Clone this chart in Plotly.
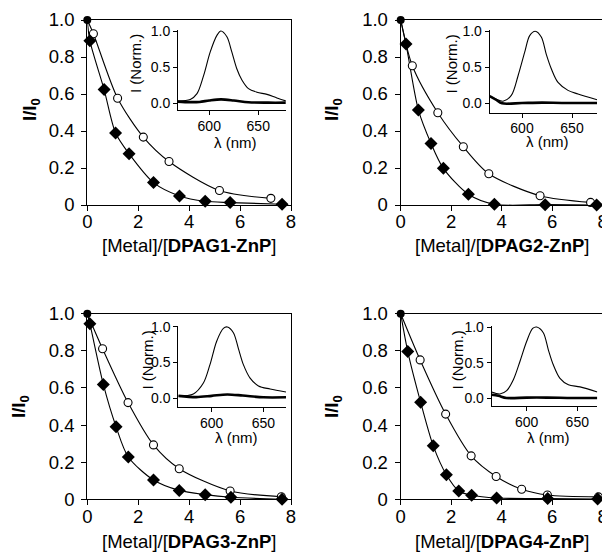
import plotly.graph_objects as go

# The page body has an 8px margin, so the figure is drawn 8px in from the window's corner.
OFF = 8
W, H = 610 - OFF, 552 - OFF

# ---------------- data: titration (I/I0 vs [Metal]/[DPAG-ZnP]) ----------------
titles = ["DPAG1-ZnP", "DPAG2-ZnP", "DPAG3-ZnP", "DPAG4-ZnP"]

p1_circ_x = [0, 0.24, 1.19, 2.2, 3.21, 5.19, 7.21]
p1_circ_y = [1.0, 0.926, 0.577, 0.367, 0.235, 0.078, 0.036]
p1_diam_x = [0, 0.1, 0.66, 1.11, 1.64, 2.6, 3.62, 4.63, 5.61, 7.65]
p1_diam_y = [1.0, 0.888, 0.624, 0.389, 0.277, 0.121, 0.049, 0.02, 0.013, 0.004]

p2_circ_x = [0, 0.46, 1.47, 2.48, 3.49, 5.52, 7.52]
p2_circ_y = [1.0, 0.753, 0.499, 0.315, 0.169, 0.05, 0.014]
p2_diam_x = [0, 0.21, 0.70, 1.2, 1.69, 2.68, 3.71, 5.72, 7.76]
p2_diam_y = [1.0, 0.870, 0.514, 0.333, 0.198, 0.058, 0.004, 0.002, 0.0]

p3_circ_x = [0, 0.6, 1.6, 2.6, 3.61, 5.61, 7.62]
p3_circ_y = [1.0, 0.811, 0.521, 0.293, 0.165, 0.045, 0.014]
p3_diam_x = [0, 0.1, 0.63, 1.13, 1.61, 2.6, 3.61, 4.63, 5.64, 7.65]
p3_diam_y = [1.0, 0.946, 0.619, 0.391, 0.228, 0.104, 0.048, 0.025, 0.011, 0.0]

p4_circ_x = [0, 0.77, 1.78, 2.79, 3.78, 4.79, 5.81, 7.83]
p4_circ_y = [1.0, 0.751, 0.459, 0.234, 0.123, 0.054, 0.023, 0.013]
p4_diam_x = [0, 0.28, 0.79, 1.29, 1.81, 2.3, 2.81, 3.8, 5.82, 7.8]
p4_diam_y = [1.0, 0.796, 0.523, 0.288, 0.132, 0.045, 0.022, 0.007, 0.004, 0.002]

main_yticks = [0, 0.2, 0.4, 0.6, 0.8, 1.0]
main_yticktext = ["0", "0.2", "0.4", "0.6", "0.8", "1.0"]
main_xticks = [0, 2, 4, 6, 8]

# ---------------- data: inset emission spectra ----------------
s1_free_wl = [568, 580.6, 587.5, 594.2, 601, 607.8, 611.9, 618, 623, 628, 633.3, 640, 648.6, 658.9, 669, 678]
s1_free_I = [0.028, 0.05, 0.13, 0.38, 0.71, 0.94, 1.0, 0.92, 0.71, 0.48, 0.32, 0.2, 0.15, 0.12, 0.07, 0.03]
s1_q_wl = [568, 580, 590, 600, 612, 625, 640, 660, 678]
s1_q_I = [0.02, 0.012, 0.015, 0.035, 0.05, 0.035, 0.01, 0.005, 0.005]

s2_free_wl = [567.7, 574, 581, 589.3, 596, 602.7, 607.7, 613.3, 619.3, 624.3, 629.3, 636, 646, 656, 675]
s2_free_I = [0.1, 0.06, 0.03, 0.11, 0.38, 0.71, 0.94, 1.0, 0.92, 0.68, 0.48, 0.29, 0.18, 0.13, 0.05]
s2_q_wl = [567.7, 574, 580, 600, 620, 640, 660, 675]
s2_q_I = [0.1, 0.05, 0.0, 0.005, 0.01, 0.005, 0.005, 0.005]

s3_free_wl = [567.6, 582.2, 591.9, 598.3, 604.8, 611.3, 615.1, 621, 625.8, 630.7, 637.2, 645.3, 656.6, 672]
s3_free_I = [0.028, 0.056, 0.21, 0.47, 0.80, 0.98, 1.0, 0.92, 0.70, 0.47, 0.28, 0.17, 0.127, 0.085]
s3_q_wl = [567.6, 585, 600, 615, 630, 650, 672]
s3_q_I = [0.03, 0.012, 0.03, 0.05, 0.035, 0.01, 0.01]

s4_free_wl = [565.4, 573.5, 580.2, 586.8, 593.4, 600, 605.9, 609.9, 616.4, 621.4, 626.3, 632.9, 641.2, 652.7, 669.8]
s4_free_I = [0.088, 0.06, 0.107, 0.26, 0.52, 0.80, 0.98, 1.0, 0.92, 0.68, 0.47, 0.28, 0.19, 0.16, 0.088]
s4_q_wl = [565.4, 572, 580, 600, 620, 640, 669.8]
s4_q_I = [0.05, 0.035, 0.005, 0.01, 0.01, 0.005, 0.005]

inset_ticks = [600, 650]
inset_yticks = [0, 0.5, 1.0]
inset_yticktext = ["0.0", "0.5", "1.0"]

# ---------------- layout geometry (window pixels) ----------------
def px_x(a, b):
    return [(a - OFF) / W, (b - OFF) / W]

def px_y(top, bottom):
    return [1 - (bottom - OFF) / H, 1 - (top - OFF) / H]

def pt(x, y):
    return (x - OFF) / W, 1 - (y - OFF) / H

main_geom = [
    (87.3, 291, 20, 205),
    (400.7, 602.7, 20, 205),
    (87.3, 291, 313.7, 499.3),
    (400.7, 602.7, 313.7, 499.3),
]
inset_geom = [
    (178, 286, 30, 110, [568.1, 678.3], [-0.097, 1.014]),
    (489.7, 597.3, 30.3, 112.5, [567.7, 675.3], [-0.127, 1.014]),
    (178.3, 286, 326, 407.3, [567.6, 672.0], [-0.131, 1.014]),
    (491.7, 597.3, 326, 406, [565.4, 669.8], [-0.108, 1.014]),
]

panels = [
    (p1_circ_x, p1_circ_y, p1_diam_x, p1_diam_y, s1_free_wl, s1_free_I, s1_q_wl, s1_q_I),
    (p2_circ_x, p2_circ_y, p2_diam_x, p2_diam_y, s2_free_wl, s2_free_I, s2_q_wl, s2_q_I),
    (p3_circ_x, p3_circ_y, p3_diam_x, p3_diam_y, s3_free_wl, s3_free_I, s3_q_wl, s3_q_I),
    (p4_circ_x, p4_circ_y, p4_diam_x, p4_diam_y, s4_free_wl, s4_free_I, s4_q_wl, s4_q_I),
]

FONT = "Liberation Sans, Arial, sans-serif"
fig = go.Figure()
layout = dict(
    width=W, height=H, margin=dict(l=0, r=0, t=0, b=0, pad=0, autoexpand=False),
    paper_bgcolor="white", plot_bgcolor="rgba(0,0,0,0)",
    showlegend=False, font=dict(family=FONT, color="black"),
)

annotations = []
xtitle_pos = [(189, 245), (502, 245), (189, 541), (502, 541)]
ytitle_pos = [(31, 110), (333, 110), (20, 407), (333, 407)]
iytitle_pos = [(136, 64), (451.5, 64), (146.5, 360), (456.5, 360)]
ixtitle_pos = [(235.3, 142.5), (547, 141), (236, 437), (548, 437.5)]

for i, (cx, cy, dx, dy, fw, fI, qw, qI) in enumerate(panels):
    m = i + 1
    n = i + 5
    xa = "x" if m == 1 else f"x{m}"
    ya = "y" if m == 1 else f"y{m}"
    xi, yi = f"x{n}", f"y{n}"

    for xs, ys in ((cx, cy), (dx, dy)):
        fig.add_trace(go.Scatter(x=xs, y=ys, mode="lines", line=dict(color="black", width=1.1, shape="spline", smoothing=0.8),
                                 xaxis=xa, yaxis=ya, cliponaxis=False, hoverinfo="skip"))
    fig.add_trace(go.Scatter(x=cx[1:], y=cy[1:], mode="markers", cliponaxis=False,
                             marker=dict(symbol="circle", size=8, color="white", line=dict(color="black", width=1.1)),
                             xaxis=xa, yaxis=ya))
    fig.add_trace(go.Scatter(x=dx[1:], y=dy[1:], mode="markers", cliponaxis=False,
                             marker=dict(symbol="diamond", size=10, color="black", line=dict(color="black", width=0)),
                             xaxis=xa, yaxis=ya))
    fig.add_trace(go.Scatter(x=[cx[0]], y=[cy[0]], mode="markers", cliponaxis=False,
                             marker=dict(symbol="circle", size=8, color="black"),
                             xaxis=xa, yaxis=ya))

    fig.add_trace(go.Scatter(x=fw, y=fI, mode="lines", line=dict(color="black", width=1.1, shape="spline", smoothing=0.9),
                             xaxis=xi, yaxis=yi))
    fig.add_trace(go.Scatter(x=qw, y=qI, mode="lines", line=dict(color="black", width=2.6, shape="spline", smoothing=0.9),
                             xaxis=xi, yaxis=yi))

    x0, x1, t0, b0 = main_geom[i]
    key_x = "xaxis" if m == 1 else f"xaxis{m}"
    key_y = "yaxis" if m == 1 else f"yaxis{m}"
    common = dict(showline=True, linecolor="black", showgrid=False, zeroline=False,
                  ticks="outside", tickcolor="black", automargin=False)
    layout[key_x] = dict(domain=px_x(x0, x1), range=[0, 8], anchor=ya, tickvals=main_xticks,
                         linewidth=1.2, mirror=True, ticklen=5, tickwidth=1.1, ticklabelstandoff=-5,
                         tickfont=dict(size=18.5, family=FONT), **common)
    layout[key_y] = dict(domain=px_y(t0, b0), range=[0, 1], anchor=xa, tickvals=main_yticks, ticktext=main_yticktext,
                         linewidth=1.2, mirror=True, ticklen=5, tickwidth=1.1, ticklabelstandoff=3,
                         tickfont=dict(size=18.5, family=FONT), **common)

    ix0, ix1, it0, ib0, xr, yr = inset_geom[i]
    layout[f"xaxis{n}"] = dict(domain=px_x(ix0, ix1), range=xr, anchor=yi, tickvals=inset_ticks,
                               linewidth=1, mirror=False, ticklen=4, tickwidth=1, ticklabelstandoff=-1,
                               tickfont=dict(size=14, family=FONT), **common)
    layout[f"yaxis{n}"] = dict(domain=px_y(it0, ib0), range=yr, anchor=xi, tickvals=inset_yticks, ticktext=inset_yticktext,
                               linewidth=1, mirror=False, ticklen=4, tickwidth=1,
                               tickfont=dict(size=14, family=FONT), **common)

    ax, ay = pt(*xtitle_pos[i])
    annotations.append(dict(x=ax, y=ay, xref="paper", yref="paper", showarrow=False,
                            text=f"[Metal]/[<b>{titles[i]}</b>]", font=dict(size=18.5, family=FONT),
                            xanchor="center", yanchor="middle"))
    ax, ay = pt(*ytitle_pos[i])
    annotations.append(dict(x=ax, y=ay, xref="paper", yref="paper", showarrow=False,
                            text="<b>I/I<sub>0</sub></b>", textangle=-90, font=dict(size=18.5, family=FONT),
                            xanchor="center", yanchor="middle"))
    ax, ay = pt(*iytitle_pos[i])
    annotations.append(dict(x=ax, y=ay, xref="paper", yref="paper", showarrow=False,
                            text="I (Norm.)", textangle=-90, font=dict(size=15, family=FONT),
                            xanchor="center", yanchor="middle"))
    ax, ay = pt(*ixtitle_pos[i])
    annotations.append(dict(x=ax, y=ay, xref="paper", yref="paper", showarrow=False,
                            text="λ (nm)", font=dict(size=15, family=FONT),
                            xanchor="center", yanchor="middle"))

layout["annotations"] = annotations
fig.update_layout(**layout)
fig.write_html("out.html")
